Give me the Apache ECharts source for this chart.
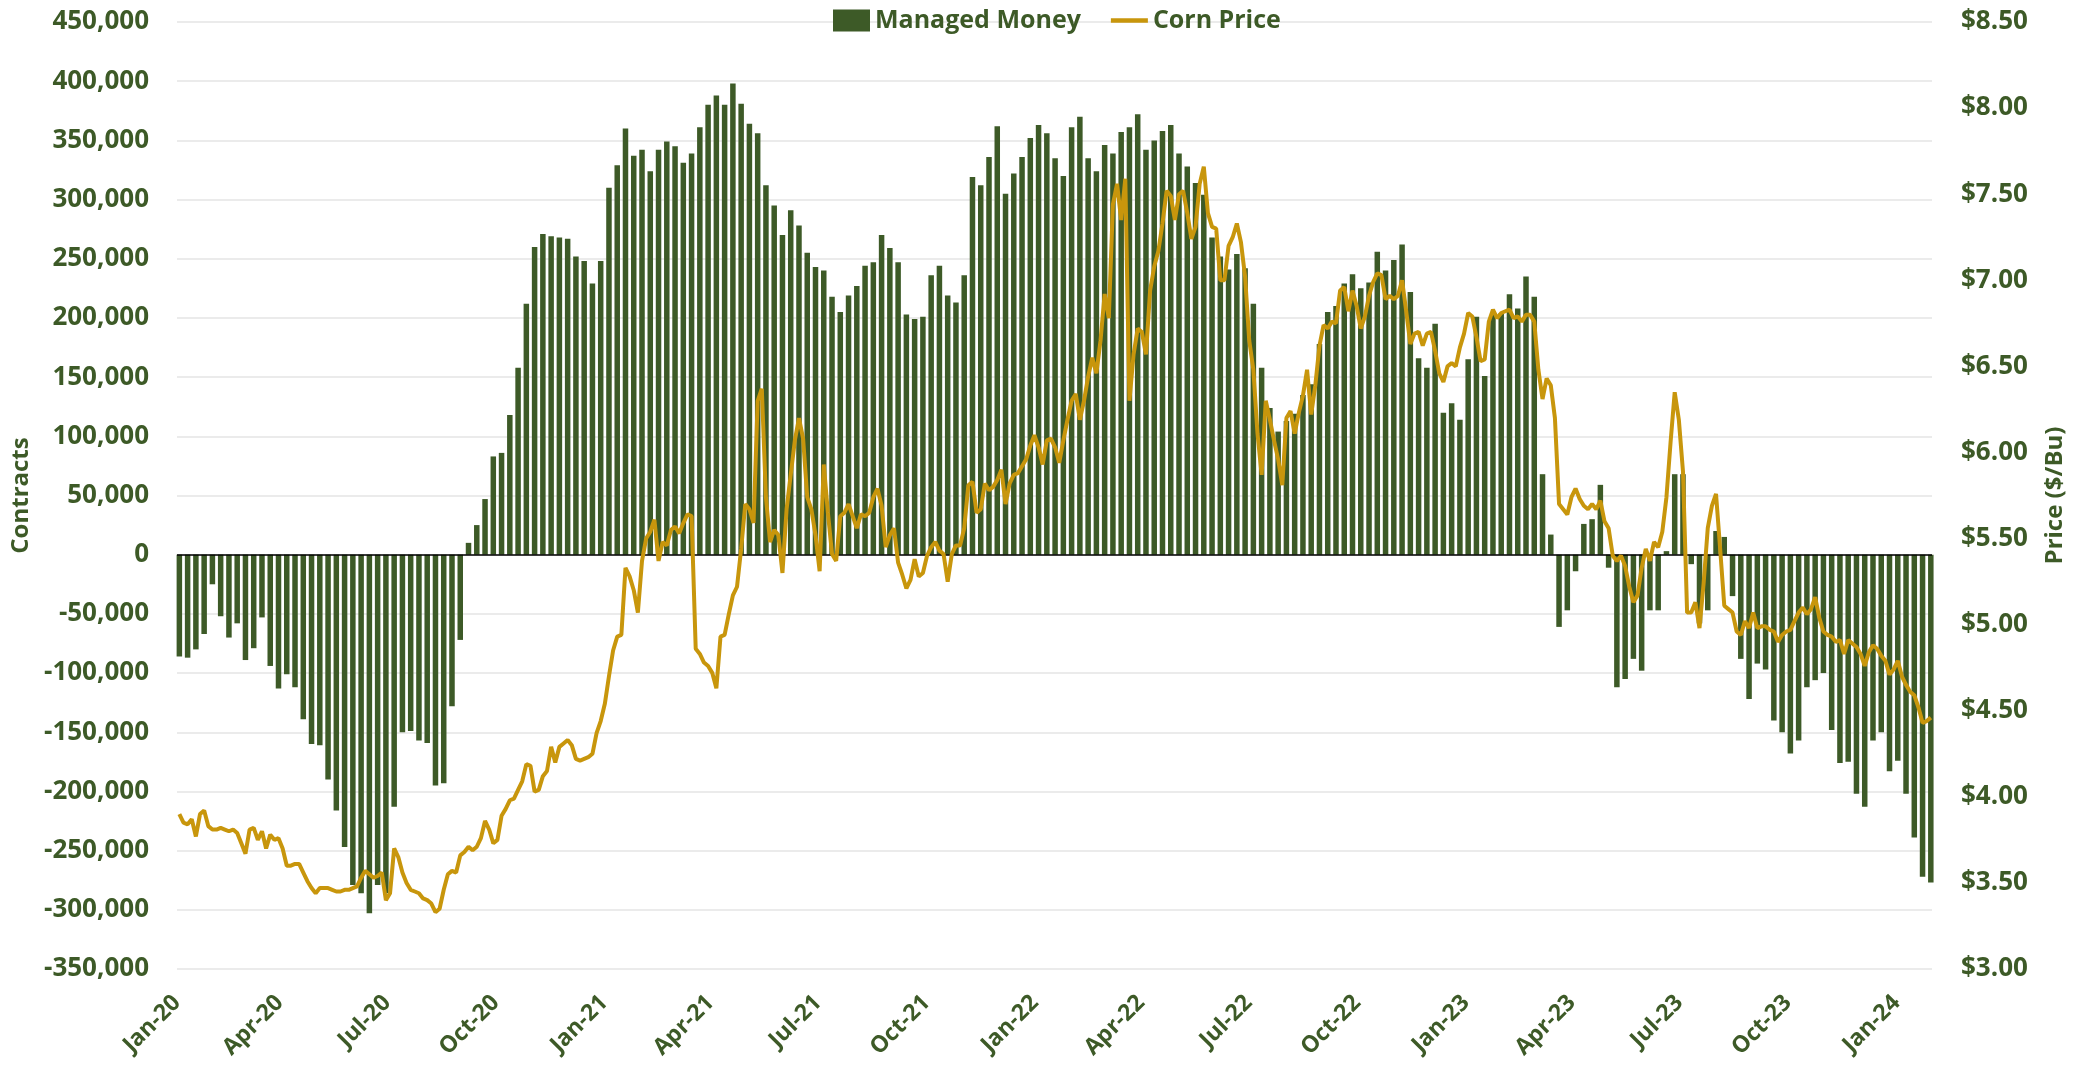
<!DOCTYPE html>
<html>
<head>
<meta charset="utf-8">
<title>Managed Money vs Corn Price</title>
<script src="https://cdn.jsdelivr.net/npm/echarts@6.0.0/dist/echarts.min.js"></script>
<style>
html, body { margin: 0; padding: 0; background: #fff; }
#main { width: 2084px; height: 1076px; }
</style>
</head>
<body>
<div id="main"></div>
<script>
const GREEN = '#3d5a27';
const GOLD = '#c8960c';
const FONT = '"Open Sans", "Noto Sans", sans-serif';

// quarterly tick labels on the date axis
const xTickLabels = ['Jan-20', 'Apr-20', 'Jul-20', 'Oct-20', 'Jan-21', 'Apr-21', 'Jul-21', 'Oct-21',
	'Jan-22', 'Apr-22', 'Jul-22', 'Oct-22', 'Jan-23', 'Apr-23', 'Jul-23', 'Oct-23', 'Jan-24'];

// weekly managed money net position (contracts), first report 7 Jan 2020
const managedMoney = [
	-86000, -87000, -80000, -67000, -25000, -52000, -70000, -58000, -89000, -79000,
	-53000, -94000, -113000, -101000, -112000, -139000, -160000, -161000, -190000, -216000,
	-247000, -279000, -286000, -303000, -279000, -286000, -213000, -150000, -149000, -157000,
	-159000, -195000, -193000, -128000, -72000, 10000, 25000, 47000, 83000, 86000,
	118000, 158000, 212000, 260000, 271000, 269000, 268000, 267000, 252000, 248000,
	229000, 248000, 310000, 329000, 360000, 337000, 342000, 324000, 342000, 349000,
	345000, 331000, 339000, 361000, 380000, 388000, 380000, 398000, 381000, 364000,
	356000, 312000, 295000, 270000, 291000, 278000, 255000, 243000, 240000, 218000,
	205000, 219000, 227000, 244000, 247000, 270000, 259000, 247000, 203000, 199000,
	201000, 236000, 244000, 219000, 213000, 236000, 319000, 312000, 336000, 362000,
	305000, 322000, 336000, 352000, 363000, 356000, 335000, 320000, 361000, 370000,
	335000, 324000, 346000, 339000, 357000, 361000, 372000, 342000, 350000, 358000,
	363000, 339000, 328000, 314000, 304000, 268000, 252000, 241000, 254000, 242000,
	212000, 158000, 124000, 104000, 113000, 119000, 135000, 144000, 178000, 205000,
	210000, 229000, 237000, 225000, 230000, 256000, 240000, 249000, 262000, 222000,
	166000, 158000, 195000, 120000, 128000, 114000, 165000, 201000, 151000, 205000,
	204000, 220000, 208000, 235000, 218000, 68000, 17000, -61000, -47000, -14000,
	26000, 30000, 59000, -11000, -112000, -105000, -88000, -98000, -47000, -47000,
	3000, 68000, 68000, -8000, -58000, -47000, 20000, 15000, -35000, -88000,
	-122000, -92000, -97000, -140000, -150000, -168000, -157000, -112000, -106000, -100000,
	-148000, -176000, -175000, -202000, -213000, -157000, -150000, -183000, -174000, -202000,
	-239000, -272000, -277000
];

// corn price ($/bu), read twice a week from 7 Jan 2020
const cornPrice = [
	3.90, 3.85, 3.84, 3.87, 3.77, 3.90, 3.92, 3.83, 3.81, 3.81,
	3.82, 3.81, 3.80, 3.81, 3.79, 3.73, 3.67, 3.81, 3.82, 3.75,
	3.80, 3.70, 3.78, 3.75, 3.76, 3.70, 3.60, 3.60, 3.61, 3.61,
	3.56, 3.51, 3.47, 3.44, 3.47, 3.47, 3.47, 3.46, 3.45, 3.45,
	3.46, 3.46, 3.47, 3.48, 3.53, 3.57, 3.55, 3.53, 3.54, 3.56,
	3.40, 3.44, 3.70, 3.65, 3.56, 3.50, 3.46, 3.45, 3.44, 3.41,
	3.40, 3.38, 3.33, 3.35, 3.46, 3.55, 3.57, 3.56, 3.66, 3.68,
	3.71,
	3.69, 3.71, 3.76, 3.86, 3.81, 3.73, 3.75, 3.89, 3.93, 3.98,
	3.99, 4.04, 4.09, 4.19, 4.18, 4.03, 4.04, 4.12, 4.15, 4.29,
	4.20, 4.29, 4.31, 4.33, 4.30, 4.22, 4.21, 4.22, 4.23, 4.25,
	4.37, 4.44, 4.54, 4.70, 4.85, 4.93, 4.94, 5.33, 5.28, 5.20,
	5.07, 5.37, 5.50, 5.54, 5.61, 5.37, 5.48, 5.46, 5.55, 5.57,
	5.53, 5.59, 5.64, 5.63, 4.86, 4.83, 4.78, 4.76, 4.72, 4.63,
	4.93, 4.94, 5.06, 5.17, 5.22, 5.44, 5.70, 5.67, 5.59, 6.30,
	6.37, 5.74, 5.48,
	5.55, 5.52, 5.30, 5.67, 5.87, 6.07, 6.20, 6.08, 5.74, 5.67,
	5.52, 5.31, 5.93, 5.65, 5.41, 5.37, 5.63, 5.65, 5.70, 5.63,
	5.56, 5.64, 5.63, 5.65, 5.74, 5.79, 5.69, 5.45, 5.52, 5.56,
	5.36, 5.29, 5.21, 5.26, 5.38, 5.28, 5.30, 5.40, 5.45, 5.48,
	5.43, 5.41, 5.25, 5.41, 5.46, 5.46, 5.56, 5.81, 5.83, 5.65,
	5.67, 5.82, 5.78, 5.80, 5.84, 5.90, 5.70, 5.82, 5.87, 5.88,
	5.92, 5.96, 6.04, 6.10, 6.03, 5.93, 6.07, 6.08, 6.03, 5.94,
	6.07, 6.19,
	6.30, 6.34, 6.19, 6.30, 6.44, 6.55, 6.46, 6.65, 6.92, 6.78,
	7.44, 7.56, 7.35, 7.59, 6.30, 6.57, 6.72, 6.70, 6.57, 6.94,
	7.08, 7.17, 7.33, 7.52, 7.49, 7.35, 7.50, 7.52, 7.39, 7.24,
	7.31, 7.56, 7.66, 7.39, 7.31, 7.30, 7.00, 7.00, 7.20, 7.25,
	7.33, 7.22, 7.02, 6.65, 6.48, 6.11, 5.87, 6.30, 6.19, 6.07,
	5.96, 5.81, 6.20, 6.24, 6.11, 6.23, 6.33, 6.48, 6.22, 6.39,
	6.62, 6.74, 6.72, 6.76, 6.75, 6.94, 6.96, 6.82, 6.94, 6.85,
	6.72, 6.79, 6.91,
	6.99, 7.04, 7.03, 6.89, 6.91, 6.89, 6.91, 7.00, 6.82, 6.63,
	6.69, 6.70, 6.62, 6.69, 6.70, 6.59, 6.46, 6.41, 6.50, 6.52,
	6.50, 6.61, 6.69, 6.81, 6.79, 6.67, 6.53, 6.54, 6.76, 6.83,
	6.78, 6.81, 6.82, 6.83, 6.78, 6.79, 6.76, 6.80, 6.80, 6.76,
	6.48, 6.31, 6.43, 6.39, 6.20, 5.70, 5.67, 5.64, 5.74, 5.79,
	5.73, 5.69, 5.67, 5.70, 5.67, 5.72, 5.60, 5.56, 5.40, 5.37,
	5.40, 5.34, 5.22, 5.13, 5.17, 5.33, 5.44, 5.37, 5.48, 5.45,
	5.54, 5.74,
	6.06, 6.35, 6.19, 5.89, 5.07, 5.07, 5.13, 4.98, 5.24, 5.56,
	5.69, 5.76, 5.44, 5.11, 5.09, 5.07, 4.96, 4.94, 5.02, 4.98,
	5.07, 4.98, 4.99, 4.99, 4.97, 4.96, 4.90, 4.94, 4.96, 4.97,
	5.02, 5.07, 5.10, 5.06, 5.09, 5.16, 5.04, 4.96, 4.94, 4.93,
	4.90, 4.91, 4.83, 4.91, 4.89, 4.87, 4.83, 4.76, 4.84, 4.88,
	4.86, 4.82, 4.79, 4.71, 4.74, 4.79, 4.70, 4.65, 4.61, 4.59,
	4.52, 4.43, 4.44, 4.46
];

const DAY = 86400000;
const firstReport = new Date(2020, 0, 7).getTime();
const mmData = managedMoney.map((v, i) => [firstReport + i * 7 * DAY, v]);
const priceData = cornPrice.map((v, i) => [firstReport + i * 3.5 * DAY, v]);

const axisMin = new Date(2020, 0, 5).getTime();
const axisMax = new Date(2024, 0, 31).getTime();
const monthNames = ['Jan', 'Feb', 'Mar', 'Apr', 'May', 'Jun', 'Jul', 'Aug', 'Sep', 'Oct', 'Nov', 'Dec'];
const tickDates = xTickLabels.map(s => {
	const [m, y] = s.split('-');
	return Math.max(new Date(2000 + Number(y), monthNames.indexOf(m), 1).getTime(), axisMin);
});

const labelStyle = { color: GREEN, fontFamily: FONT, fontWeight: 'bold' };

const myChart = echarts.init(document.querySelector('#main'));

const option = {
	animation: false,
	backgroundColor: '#fff',
	textStyle: { fontFamily: FONT },
	legend: {
		left: 828,
		top: 3,
		itemWidth: 37,
		itemHeight: 22,
		itemGap: 30,
		textStyle: Object.assign({ fontSize: 25 }, labelStyle),
		data: [
			{ name: 'Managed Money', icon: 'rect' },
			// plain line, no marker
			{ name: 'Corn Price', icon: 'path://M0,0L40,0L40,5L0,5Z' }
		]
	},
	grid: { left: 177, right: 152, top: 22, bottom: 107 },
	xAxis: {
		// dates as ms on a plain value axis, labels only at quarter starts
		type: 'value',
		min: axisMin,
		max: axisMax,
		axisLine: { show: false },
		axisTick: { show: false },
		splitLine: { show: false },
		axisLabel: Object.assign({
			customValues: tickDates,
			formatter: v => {
				const i = tickDates.indexOf(v);
				return i >= 0 ? xTickLabels[i] : '';
			},
			rotate: 45,
			margin: 30,
			fontSize: 23,
			showMinLabel: true,
			showMaxLabel: true,
			hideOverlap: false
		}, labelStyle)
	},
	yAxis: [
		{
			type: 'value',
			min: -350000,
			max: 450000,
			interval: 50000,
			name: 'Contracts',
			nameLocation: 'middle',
			nameRotate: 90,
			nameGap: 142,
			nameTextStyle: Object.assign({ fontSize: 24 }, labelStyle),
			axisLine: { show: false },
			axisTick: { show: false },
			splitLine: { lineStyle: { color: '#e4e4e4', width: 1.5 } },
			axisLabel: Object.assign({
				fontSize: 26,
				margin: 28,
				formatter: v => v.toLocaleString('en-US')
			}, labelStyle)
		},
		{
			type: 'value',
			position: 'right',
			min: 3,
			max: 8.5,
			interval: 0.5,
			name: 'Price ($/Bu)',
			nameLocation: 'middle',
			nameRotate: 90,
			nameGap: 111,
			nameTextStyle: Object.assign({ fontSize: 24 }, labelStyle),
			axisLine: { show: false },
			axisTick: { show: false },
			splitLine: { show: false },
			axisLabel: Object.assign({
				fontSize: 26,
				margin: 29,
				formatter: v => '$' + v.toFixed(2)
			}, labelStyle)
		}
	],
	series: [
		{
			name: 'Managed Money',
			type: 'bar',
			data: mmData,
			barWidth: 5.5,
			itemStyle: { color: GREEN },
			markLine: {
				silent: true,
				symbol: ['none', 'none'],
				label: { show: false },
				lineStyle: { color: '#000', width: 1.5, type: 'solid' },
				data: [{ yAxis: 0 }]
			}
		},
		{
			name: 'Corn Price',
			type: 'line',
			yAxisIndex: 1,
			data: priceData,
			symbol: 'none',
			itemStyle: { color: GOLD },
			lineStyle: { color: GOLD, width: 4 },
			z: 5
		}
	]
};

myChart.setOption(option);
</script>
</body>
</html>
